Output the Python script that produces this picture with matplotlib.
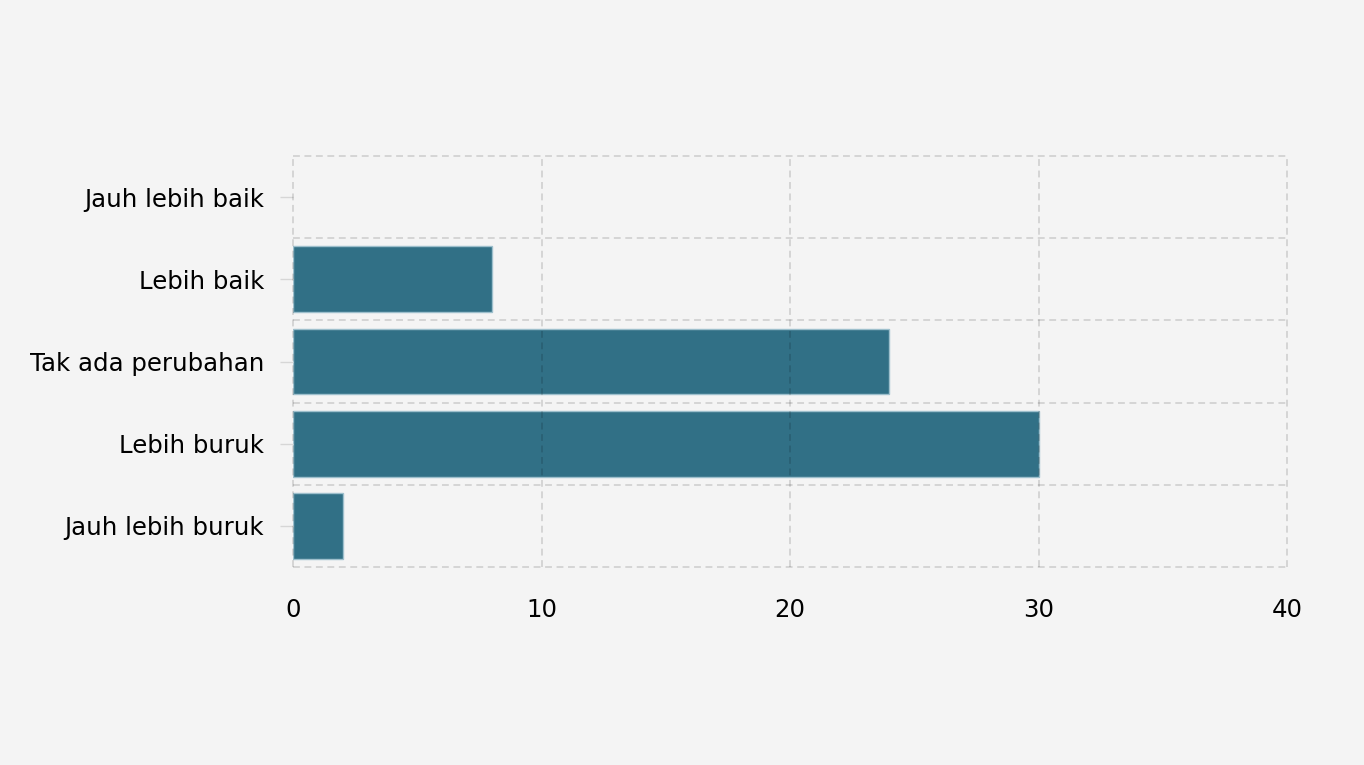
import numpy as np
import matplotlib
matplotlib.use("Agg")
import matplotlib.pyplot as plt

categories = ["Jauh lebih buruk", "Lebih buruk", "Tak ada perubahan", "Lebih baik", "Jauh lebih baik"]
values = [2, 30, 24, 8, 0]
x_ticks = [0, 10, 20, 30, 40]

bg = "#f4f4f4"

fig = plt.figure(figsize=(13.64, 7.65), dpi=100, facecolor=bg)
ax = fig.add_axes([293 / 1364, 1 - 567 / 765, (1287 - 293) / 1364, (567 - 156) / 765])
ax.set_facecolor(bg)

y = np.arange(len(categories))
ax.barh(y, values, height=0.8, color="#317086",
        edgecolor="#9dbfcc", linewidth=[1.0 if v else 0 for v in values], zorder=1)

ax.set_xlim(0, 40)
ax.set_ylim(-0.5, len(categories) - 0.5)
ax.set_xticks(x_ticks)
ax.set_yticks(y)
ax.set_yticklabels(categories)

# dashed grid drawn over the bars: vertical at ticks, horizontal at category boundaries
dash = (0, (4.5, 3.0))
for xv in x_ticks:
    ax.axvline(xv, color="black", alpha=0.16, linestyle=dash, linewidth=1.1, zorder=3, clip_on=False)
for yb in np.arange(-0.5, len(categories), 1.0):
    ax.axhline(yb, color="black", alpha=0.16, linestyle=dash, linewidth=1.1, zorder=3, clip_on=False)

for s in ax.spines.values():
    s.set_visible(False)

ax.tick_params(axis="y", length=9.4, width=1, color="#d6d6d6", labelsize=17.6, pad=11.5, labelcolor="black")
ax.tick_params(axis="x", length=0, labelsize=17.6, pad=22, labelcolor="black")

fig.savefig("out.png", dpi=100, facecolor=bg)
